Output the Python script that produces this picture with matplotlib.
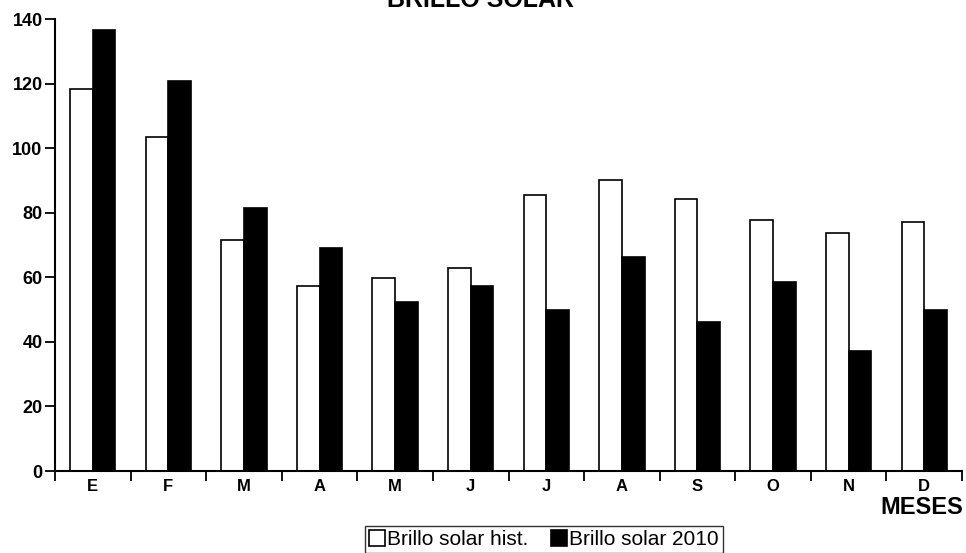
import matplotlib

matplotlib.use("Agg")
import matplotlib.pyplot as plt
import numpy as np

# values
meses = ["E", "F", "M", "A", "M", "J", "J", "A", "S", "O", "N", "D"]
brillo_hist = [118.3, 103.4, 71.5, 57.3, 59.8, 62.9, 85.5, 90.1, 84.2, 77.7, 73.7, 77.1]
brillo_2010 = [136.6, 120.8, 81.4, 69.0, 52.3, 57.3, 49.9, 66.3, 46.1, 58.5, 37.2, 49.9]

plt.rcParams["font.family"] = ["Liberation Sans", "DejaVu Sans"]

fig = plt.figure(figsize=(9.66, 5.53), dpi=100)
ax = fig.add_axes([55 / 966, 82 / 553, 907 / 966, 452 / 553])

x = np.arange(len(meses))
w = 0.3
ax.bar(x - 0.15, brillo_hist, w, color="white", edgecolor="black", linewidth=1.2,
       label="Brillo solar hist.")
ax.bar(x + 0.15, brillo_2010, w, color="black", edgecolor="black", linewidth=1.2,
       label="Brillo solar 2010")

ax.set_xlim(-0.5, len(meses) - 0.5)
ax.set_ylim(0, 140)
ax.set_yticks(range(0, 141, 20))
ax.set_xticks(x)
ax.set_xticklabels(meses, fontsize=12, fontweight="bold")
ax.set_xticks(np.arange(-0.5, len(meses)), minor=True)
ax.tick_params(axis="x", which="major", length=0, pad=6)
ax.tick_params(axis="x", which="minor", length=7, width=1.3, direction="out")
ax.tick_params(axis="y", length=7, width=1.3, pad=2)
for lab in ax.get_yticklabels():
    lab.set_fontsize(13)
    lab.set_fontweight("bold")

for s in ("top", "right"):
    ax.spines[s].set_visible(False)
for s in ("left", "bottom"):
    ax.spines[s].set_linewidth(1.5)

# title sits half off the top edge, as in the reference
fig.text(0.497, 1.0, "BRILLO SOLAR", ha="center", va="center", fontsize=18, fontweight="bold")
fig.text(0.997, 1 - 508 / 553, "MESES", ha="right", va="center",
         fontsize=17, fontweight="bold")

leg = fig.legend(loc="upper center", bbox_to_anchor=(544 / 966, 1 - 526 / 553), ncol=2,
                 fontsize=15, frameon=True, fancybox=False, edgecolor="black",
                 handlelength=0.75, handleheight=0.75, handletextpad=0.1, columnspacing=1.1,
                 borderpad=0.2, borderaxespad=0)
leg.get_frame().set_linewidth(1.0)

fig.savefig("out.png", dpi=100)
